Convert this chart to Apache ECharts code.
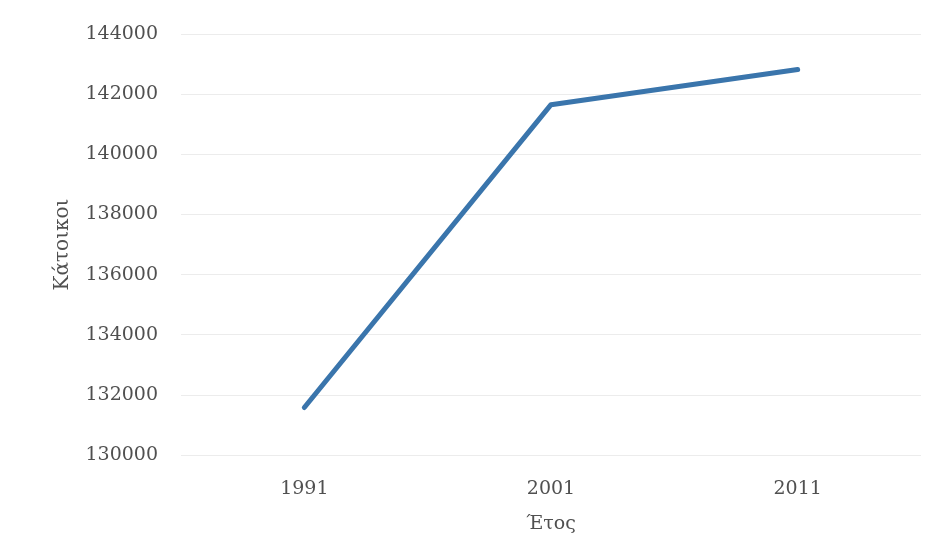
<!DOCTYPE html>
<html>
<head>
<meta charset="utf-8">
<script src="https://cdn.jsdelivr.net/npm/echarts@6/dist/echarts.min.js"></script>
<style>
  html, body { margin: 0; padding: 0; background: #ffffff; }
  #chart { width: 933px; height: 558px; }
</style>
</head>
<body>
<div id="chart"></div>
<script>
// Census years and residents
const years = ['1991', '2001', '2011'];
const residents = [131580, 141650, 142820];

// Value axis range
const yMin = 130000;
const yMax = 144000;
const yStep = 2000;

const textColor = '#505050';
const fontFamily = '"DejaVu Serif", serif';

const chart = echarts.init(document.getElementById('chart'), null, { renderer: 'canvas' });
chart.setOption({
  backgroundColor: '#ffffff',
  animation: false,
  grid: { left: 181, right: 12, top: 34, bottom: 103 },
  xAxis: {
    type: 'category',
    data: years,
    boundaryGap: true,
    axisLine: { show: false },
    axisTick: { show: false },
    axisLabel: { color: textColor, fontFamily: fontFamily, fontSize: 19, margin: 25 },
    name: 'Έτος',
    nameLocation: 'middle',
    nameGap: 60,
    nameTextStyle: { color: textColor, fontFamily: fontFamily, fontSize: 19 }
  },
  yAxis: {
    type: 'value',
    min: yMin,
    max: yMax,
    interval: yStep,
    axisLine: { show: false },
    axisTick: { show: false },
    axisLabel: {
      color: textColor, fontFamily: fontFamily, fontSize: 19, margin: 23,
      formatter: v => String(v)
    },
    splitLine: { lineStyle: { color: '#ececec', width: 1 } },
    name: 'Κάτοικοι',
    nameLocation: 'middle',
    nameGap: 108,
    nameRotate: 90,
    nameTextStyle: { color: textColor, fontFamily: fontFamily, fontSize: 20 }
  },
  series: [{
    type: 'line',
    data: residents,
    showSymbol: false,
    symbol: 'none',
    lineStyle: { color: '#3a75ac', width: 5, cap: 'round', join: 'round' }
  }]
});
</script>
</body>
</html>
